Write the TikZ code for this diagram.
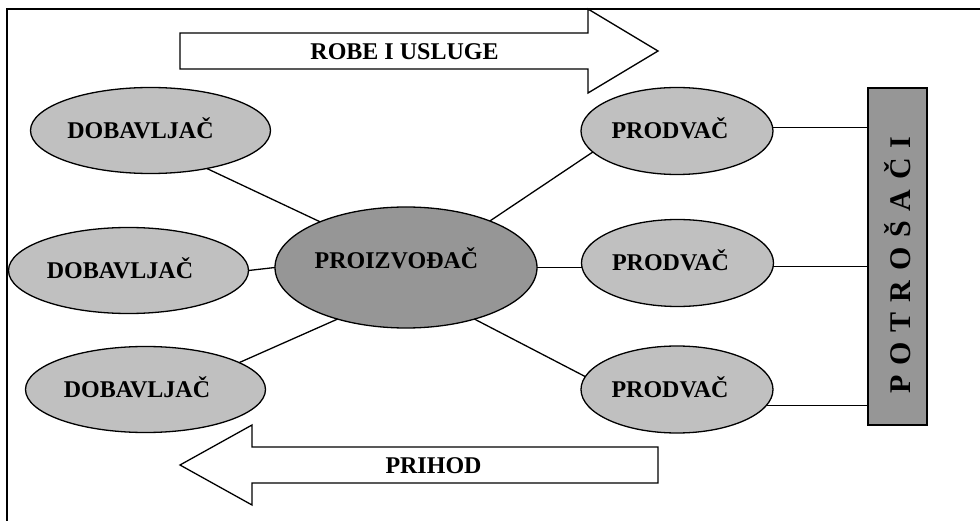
\documentclass[tikz,border=0pt]{standalone}
\usepackage{fontspec}
\setmainfont{Liberation Serif}
\usetikzlibrary{shapes.geometric}
\definecolor{lightfill}{HTML}{C0C0C0}
\definecolor{darkfill}{HTML}{969696}
\newcommand\potfontcmd{\fontsize{30}{33}\selectfont\bfseries}
\newcommand\potspaced{P\hspace{9.8pt}O\hspace{9.8pt}T\hspace{9.8pt}R\hspace{9.8pt}O\hspace{9.8pt}Š\hspace{9.8pt}A\hspace{9.8pt}Č\hspace{9.8pt}I}
\begin{document}
\begin{tikzpicture}[x=1pt,y=-1pt,
  lbl/.style={font=\fontsize{24}{27}\selectfont\bfseries, inner sep=0pt, text height=15.9pt, text depth=0pt},
  ell/.style={ellipse, draw=black, line width=1.3pt, fill=lightfill, inner sep=0pt, outer sep=0pt,
    font=\fontsize{24}{27}\selectfont\bfseries, text height=15.9pt, text depth=0pt},
  sup/.style={ell, minimum width=240pt, minimum height=86pt},
  sel/.style={ell, minimum width=192pt, minimum height=87pt},
  link/.style={draw=black, line width=1.3pt},
  bigarrow/.style={draw=black, line width=1.3pt, fill=white, line join=miter}
]
\useasboundingbox (0,0) rectangle (980,521);
\fill[white] (0,0) rectangle (980,521);
% frame
\draw[line width=1.3pt] (981,9) -- (7,9) -- (7,522);

% arrows
\draw[bigarrow] (180,33) -- (588,33) -- (588,9) -- (658,51) -- (588,93) -- (588,69) -- (180,69) -- cycle;
\node[lbl] (robe) at (404.5,52) {ROBE I USLUGE};
\draw[bigarrow] (180,465) -- (252,425) -- (252,447) -- (658,447) -- (658,483) -- (252,483) -- (252,505) -- cycle;
\node[lbl] (prihod) at (433.5,466) {PRIHOD};

% nodes
\node[sup] (d1) at (150.5,130.5) {DOBAVLJAČ\hspace*{20pt}};
\node[sup] (d2) at (128.5,270.5) {DOBAVLJAČ\hspace*{17pt}};
\node[sup] (d3) at (145.5,389.5) {DOBAVLJAČ\hspace*{17pt}};
\node[ell, fill=darkfill, minimum width=262pt, minimum height=121pt, text depth=13pt] (p) at (406,267.5) {PROIZVOĐAČ\hspace*{19pt}};
\node[sel] (pr1) at (677,131) {PRODVAČ\hspace*{14pt}};
\node[sel] (pr2) at (677.5,263) {PRODVAČ\hspace*{14pt}};
\node[sel] (pr3) at (677,389.5) {PRODVAČ\hspace*{14pt}};
\node[draw=black, line width=1.3pt, fill=darkfill, minimum width=59pt, minimum height=337pt, inner sep=0pt, outer sep=0pt] (pot) at (897.5,256.5) {};
\node[rotate=90, anchor=base, inner sep=0pt, font=\potfontcmd] (potlbl) at (910,265) {\potspaced};

% connectors
\draw[link] (d1.-34.4) -- (p.152.4);
\draw[link] (d2.east) -- (p.west);
\draw[link] (d3.16) -- (p.217);
\draw[link] (p.29.2) -- (pr1.194.5);
\draw[link] (p.east) -- (p.east -| pr2.west);
\draw[link] (p.-37.8) -- (pr3.172.6);
\draw[link] (pr1.2) -- (pr1.2 -| pot.west);
\draw[link] (pr2.-2.4) -- (pr2.-2.4 -| pot.west);
\draw[link] (pr3.-10.2) -- (pr3.-10.2 -| pot.west);
\end{tikzpicture}
\end{document}
